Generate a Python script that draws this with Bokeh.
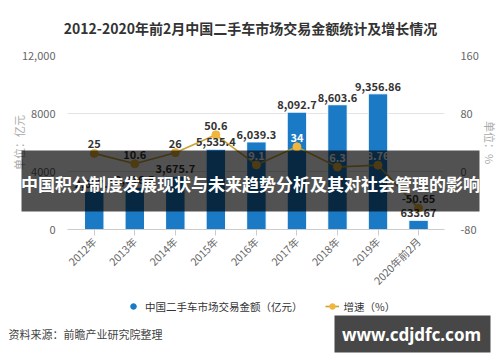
import math
from bokeh.plotting import figure
from bokeh.core.properties import value
from bokeh.models import (Range1d, LinearAxis, FixedTicker, ColumnDataSource, LabelSet,
                          Legend, LegendItem)
from bokeh.embed import file_html
from bokeh.resources import INLINE

categories = ["2012年", "2013年", "2014年", "2015年", "2016年", "2017年", "2018年", "2019年", "2020年前2月"]
amounts = [2637.0, 2916.5, 3675.7, 5535.4, 6039.3, 8092.7, 8603.6, 9356.86, 633.67]
amount_labels = ["2,637.0", "2,916.5", "3,675.7", "5,535.4", "6,039.3", "8,092.7", "8,603.6", "9,356.86", "633.67"]
growth = [25, 10.6, 26, 50.6, 9.1, 34, 6.3, 8.76, -50.65]
growth_labels = ["25", "10.6", "26", "50.6", "9.1", "34", "6.3", "8.76", "-50.65"]
left_ticks = [0, 4000, 8000, 12000]
left_tick_labels = ["0", "4000", "8000", "12,000"]
right_ticks = [-80, 0, 80, 160]
right_tick_labels = ["-80", "0", "80", "160"]

title_text = "2012-2020年前2月中国二手车市场交易金额统计及增长情况"
banner_text = "中国积分制度发展现状与未来趋势分析及其对社会管理的影响"
source_text = "资料来源：前瞻产业研究院整理"
site_text = "www.cdjdfc.com"
series_names = ["中国二手车市场交易金额（亿元）", "增速（%）"]

FONT = "Noto Sans CJK SC"
BLUE = "#1a7ac6"
GOLD = "#f0b63c"
GOLD_LINE = "#c9a232"

LEFT_MAX = 12000
PCT_MIN, PCT_MAX = -80, 160
W, H = 500, 362

xs = list(range(len(categories)))
lab_colors = []
for a, g in zip(amounts, growth):
    g_left = (g - PCT_MIN) / (PCT_MAX - PCT_MIN) * LEFT_MAX
    lab_colors.append("white" if g_left + 1300 < a else "#333333")

src = ColumnDataSource(dict(x=xs, amount=amounts, amount_label=amount_labels,
                            growth=growth, growth_label=growth_labels, gcolor=lab_colors))

p = figure(width=W, height=H, x_range=Range1d(-0.66, 8.64), y_range=Range1d(0, LEFT_MAX),
           output_backend="svg", toolbar_location=None,
           min_border_left=67, min_border_right=52, min_border_top=55, min_border_bottom=133,
           outline_line_color=None, background_fill_color="white", border_fill_color="white")
p.extra_y_ranges = {"pct": Range1d(PCT_MIN, PCT_MAX)}

xa = p.xaxis[0]
xa.ticker = FixedTicker(ticks=xs)
xa.major_label_overrides = {i: c for i, c in zip(xs, categories)}
xa.major_label_orientation = math.pi / 4
xa.minor_tick_line_color = None
xa.axis_line_color = "#cccccc"
xa.major_tick_line_color = "#cccccc"
xa.major_tick_in = 0
xa.major_tick_out = 6
xa.major_label_text_font = FONT
xa.major_label_text_font_size = "10.5px"
xa.major_label_text_color = "#666666"
xa.major_label_standoff = 4
p.xgrid.visible = False

ya = p.yaxis[0]
ya.ticker = FixedTicker(ticks=left_ticks)
ya.major_label_overrides = {t: l for t, l in zip(left_ticks, left_tick_labels)}
ya.axis_line_color = None
ya.major_tick_line_color = None
ya.minor_tick_line_color = None
ya.major_label_text_font = FONT
ya.major_label_text_font_size = "11px"
ya.major_label_text_color = "#666666"
ya.major_label_standoff = 6
ya.axis_label = "单位：亿元"
ya.axis_label_text_font = FONT
ya.axis_label_text_font_size = "11px"
ya.axis_label_text_font_style = "normal"
ya.axis_label_text_color = "#aaaaaa"
ya.axis_label_standoff = -8
p.ygrid.ticker = FixedTicker(ticks=left_ticks)
p.ygrid.grid_line_color = "#e3e3e3"

ra = LinearAxis(y_range_name="pct", ticker=FixedTicker(ticks=right_ticks))
ra.major_label_overrides = {t: l for t, l in zip(right_ticks, right_tick_labels)}
ra.axis_line_color = None
ra.major_tick_line_color = None
ra.minor_tick_line_color = None
ra.major_label_text_font = FONT
ra.major_label_text_font_size = "11px"
ra.major_label_text_color = "#666666"
ra.major_label_standoff = 10
ra.axis_label = "单位：%"
ra.axis_label_text_font = FONT
ra.axis_label_text_font_size = "11px"
ra.axis_label_text_font_style = "normal"
ra.axis_label_text_color = "#aaaaaa"
ra.axis_label_standoff = 0
p.add_layout(ra, "right")

p.vbar(x="x", top="amount", width=0.48, source=src, fill_color=BLUE,
       line_color="white", line_width=1)
p.line(x="x", y="growth", source=src, y_range_name="pct", line_color=GOLD_LINE, line_width=1.6)
p.scatter(x="x", y="growth", source=src, y_range_name="pct", size=8,
          fill_color=GOLD, line_color=GOLD)

p.add_layout(LabelSet(x="x", y="amount", text="amount_label", source=src,
                      text_align="center", text_baseline="bottom", y_offset=3,
                      text_font=value(FONT), text_font_size="11px", text_font_style="bold",
                      text_color="#333333"))
p.add_layout(LabelSet(x="x", y="growth", text="growth_label", source=src, y_range_name="pct",
                      text_align="center", text_baseline="bottom", y_offset=5,
                      text_font=value(FONT), text_font_size="11px", text_font_style="bold",
                      text_color="gcolor"))

# ---- overlay layer: title, legend, source note, banner and site box ----
ov = figure(width=W, height=H, x_range=Range1d(0, W), y_range=Range1d(H, 0),
            output_backend="svg", toolbar_location=None, min_border=0,
            x_axis_location=None, y_axis_location=None, outline_line_color=None,
            background_fill_color=None, border_fill_color=None)
ov.grid.visible = False
ov.styles = {"position": "absolute", "top": "0px", "left": "0px"}

ov.text(x=[250], y=[27], text=[title_text], text_align="center", text_baseline="middle",
        text_font=value(FONT), text_font_size="14px", text_font_style="bold", text_color="#333333")
ov.text(x=[8], y=[333], text=[source_text], text_align="left", text_baseline="middle",
        text_font=value(FONT), text_font_size="11px", text_color="#444444")

# legend swatches: renderers with one point placed off-canvas
leg_dot = ov.scatter(x=[-100], y=[-100], size=10, fill_color=BLUE, line_color=BLUE)
leg_line = ov.line(x=[-100, -90], y=[-100, -100], line_color=GOLD_LINE, line_width=1.6)
leg_pt = ov.scatter(x=[-100], y=[-100], size=7, fill_color=GOLD, line_color=GOLD)
legend = Legend(items=[LegendItem(label=series_names[0], renderers=[leg_dot]),
                       LegendItem(label=series_names[1], renderers=[leg_line, leg_pt])],
                orientation="horizontal", location=(126, 46),
                background_fill_alpha=0, border_line_color=None,
                label_text_font=FONT, label_text_font_size="10.5px", label_text_color="#333333",
                glyph_width=14, glyph_height=20, label_standoff=5, spacing=22,
                padding=0, margin=0)
ov.add_layout(legend)

ov.quad(left=[21], right=[479], top=[150], bottom=[211], fill_color="black",
        fill_alpha=0.68, line_color=None)
ov.text(x=[250], y=[183], text=[banner_text], text_align="center", text_baseline="middle",
        text_font=value(FONT), text_font_size="17px", text_font_style="bold", text_color="white")

ov.quad(left=[334], right=[490], top=[315], bottom=[352], fill_color="black",
        fill_alpha=0.72, line_color=None)
ov.text(x=[411], y=[334], text=[site_text], text_align="center", text_baseline="middle",
        text_font=value("Noto Sans"), text_font_size="17px", text_font_style="bold",
        text_color="white")

open("out.html", "w").write(file_html([p, ov], INLINE))
